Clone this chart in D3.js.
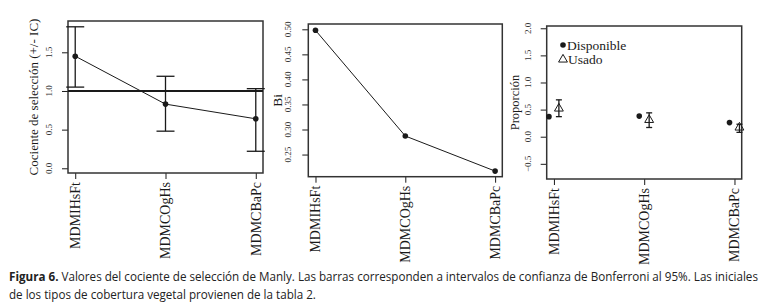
<!DOCTYPE html>
<html>
<head>
<meta charset="utf-8">
<script src="https://cdn.jsdelivr.net/npm/d3@7"></script>
<style>
  body { margin: 0; background: #fff; }
  svg { display: block; }
</style>
</head>
<body>
<div id="chart"></div>
<script>
// categories (cover types)
const categories = ["MDMIHsFt", "MDMCOgHs", "MDMCBaPc"];

// panel 1: Manly selection ratio with Bonferroni CI
const cocienteValues = [1.45, 0.83, 0.64];
const cocienteLower = [1.05, 0.48, 0.22];
const cocienteUpper = [1.83, 1.19, 1.03];
const cocienteTicks = [0, 0.5, 1, 1.5];

// panel 2: Bi
const biValues = [0.498, 0.287, 0.217];
const biTicks = [0.25, 0.30, 0.35, 0.40, 0.45, 0.50];

// panel 3: proportion available / used
const disponible = [0.37, 0.38, 0.26];
const usado = [0.52, 0.31, 0.17];
const usadoLower = [0.37, 0.17, 0.08];
const usadoUpper = [0.68, 0.44, 0.23];
const propTicks = [-0.5, 0, 0.5, 1, 1.5, 2];

const captionBold = "Figura 6.";
const captionLine1 = " Valores del cociente de selección de Manly. Las barras corresponden a intervalos de confianza de Bonferroni al 95%. Las iniciales";
const captionLine2 = "de los tipos de cobertura vegetal provienen de la tabla 2.";

const W = 768, H = 308;
const ink = "#1a1a1a";
const serif = "'Liberation Serif', 'Times New Roman', serif";

const svg = d3.select("#chart").append("svg")
    .attr("width", W)
    .attr("height", H);

/* draws one R-style panel: box, ticks, rotated labels */
function panel(box, yDomain, yTicks, yFmt, yTitle, titleX, titleSize, tickLabelX) {
    const x = d3.scaleLinear().domain([0.92, 3.08]).range([box.x0, box.x1]);
    const y = d3.scaleLinear().domain(yDomain).range([box.y1, box.y0]);
    const g = svg.append("g");

    // y axis (ticks only, outward)
    g.append("g")
        .attr("transform", `translate(${box.x0},0)`)
        .call(d3.axisLeft(y).tickValues(yTicks).tickSize(6).tickFormat(() => ""))
        .call(a => a.select(".domain").remove())
        .selectAll("line").attr("stroke", ink);
    g.selectAll(".ylab")
        .data(yTicks)
        .enter()
        .append("text")
        .attr("transform", d => `translate(${tickLabelX},${y(d)}) rotate(-90)`)
        .attr("text-anchor", "middle")
        .attr("font-family", serif)
        .attr("font-size", 9)
        .attr("fill", "#333")
        .text(yFmt);

    // x axis
    g.append("g")
        .attr("transform", `translate(0,${box.y1})`)
        .call(d3.axisBottom(x).tickValues([1, 2, 3]).tickSize(6).tickFormat(() => ""))
        .call(a => a.select(".domain").remove())
        .selectAll("line").attr("stroke", ink);
    g.selectAll(".xlab")
        .data(categories)
        .enter()
        .append("text")
        .attr("transform", (d, i) => `translate(${x(i + 1)},${box.y1 + 9}) rotate(-90)`)
        .attr("text-anchor", "end")
        .attr("dy", "0.35em")
        .attr("font-family", serif)
        .attr("font-size", 14)
        .attr("fill", ink)
        .text(d => d);

    // y title
    g.append("text")
        .attr("transform", `translate(${titleX},${(box.y0 + box.y1) / 2}) rotate(-90)`)
        .attr("text-anchor", "middle")
        .attr("dy", "0.35em")
        .attr("font-family", serif)
        .attr("font-size", titleSize)
        .attr("fill", ink)
        .text(yTitle);

    // box
    g.append("rect")
        .attr("x", box.x0)
        .attr("y", box.y0)
        .attr("width", box.x1 - box.x0)
        .attr("height", box.y1 - box.y0)
        .attr("fill", "none")
        .attr("stroke", "#333")
        .attr("stroke-width", 1.5);

    return { g, x, y };
}

/* Panel 1 */
{
    const { g, x, y } = panel({ x0: 68, x1: 263, y0: 21, y1: 173 }, [-0.061, 1.905],
        cocienteTicks, d3.format(".1f"), "Cociente de selección (+/- IC)", 33, 13, 52);

    g.append("line")
        .attr("x1", 68).attr("x2", 263)
        .attr("y1", y(1)).attr("y2", y(1))
        .attr("stroke", ink).attr("stroke-width", 2);

    const line = d3.line().x((d, i) => x(i + 1)).y(d => y(d));
    g.append("path")
        .datum(cocienteValues)
        .attr("d", line)
        .attr("fill", "none")
        .attr("stroke", ink)
        .attr("stroke-width", 1);

    categories.forEach((c, i) => {
        const cx = x(i + 1);
        g.append("line").attr("x1", cx).attr("x2", cx)
            .attr("y1", y(cocienteLower[i])).attr("y2", y(cocienteUpper[i]))
            .attr("stroke", ink).attr("stroke-width", 1.3);
        [cocienteLower[i], cocienteUpper[i]].forEach(v => {
            g.append("line").attr("x1", cx - 9).attr("x2", cx + 9)
                .attr("y1", y(v)).attr("y2", y(v))
                .attr("stroke", ink).attr("stroke-width", 1.3);
        });
    });

    g.selectAll(".pt")
        .data(cocienteValues)
        .enter()
        .append("circle")
        .attr("cx", (d, i) => x(i + 1))
        .attr("cy", d => y(d))
        .attr("r", 2.8)
        .attr("fill", ink);
}

/* Panel 2 */
{
    const { g, x, y } = panel({ x0: 308.3, x1: 502.3, y0: 24, y1: 176.7 }, [0.2058, 0.5106],
        biTicks, d3.format(".2f"), "Bi", 277, 13.5, 291);

    const line = d3.line().x((d, i) => x(i + 1)).y(d => y(d));
    g.append("path")
        .datum(biValues)
        .attr("d", line)
        .attr("fill", "none")
        .attr("stroke", ink)
        .attr("stroke-width", 1);

    g.selectAll(".pt")
        .data(biValues)
        .enter()
        .append("circle")
        .attr("cx", (d, i) => x(i + 1))
        .attr("cy", d => y(d))
        .attr("r", 2.8)
        .attr("fill", ink);
}

/* Panel 3 */
{
    const { g, x, y } = panel({ x0: 546.7, x1: 741.7, y0: 26, y1: 179 }, [-0.78, 2.042],
        propTicks, d3.format(".1f"), "Proporción", 515, 12.5, 531);

    const off = 0.055;
    g.selectAll(".disp")
        .data(disponible)
        .enter()
        .append("circle")
        .attr("cx", (d, i) => x(i + 1 - off))
        .attr("cy", d => y(d))
        .attr("r", 2.8)
        .attr("fill", ink);

    categories.forEach((c, i) => {
        const cx = x(i + 1 + off);
        g.append("line").attr("x1", cx).attr("x2", cx)
            .attr("y1", y(usadoLower[i])).attr("y2", y(usadoUpper[i]))
            .attr("stroke", ink).attr("stroke-width", 1.3);
        [usadoLower[i], usadoUpper[i]].forEach(v => {
            g.append("line").attr("x1", cx - 3).attr("x2", cx + 3)
                .attr("y1", y(v)).attr("y2", y(v))
                .attr("stroke", ink).attr("stroke-width", 1.3);
        });
    });

    const tri = d3.symbol().type(d3.symbolTriangle).size(34);
    g.selectAll(".uso")
        .data(usado)
        .enter()
        .append("path")
        .attr("d", tri)
        .attr("transform", (d, i) => `translate(${x(i + 1 + off)},${y(d)})`)
        .attr("fill", "none")
        .attr("stroke", ink)
        .attr("stroke-width", 1);

    // legend
    const lg = g.append("g").attr("font-family", serif).attr("font-size", 13.5).attr("fill", ink);
    lg.append("circle").attr("cx", 563).attr("cy", 45).attr("r", 2.8).attr("fill", ink);
    lg.append("text").attr("x", 567).attr("y", 45).attr("dy", "0.35em").text("Disponible");
    lg.append("path").attr("d", tri)
        .attr("transform", "translate(563,59.5)")
        .attr("fill", "none").attr("stroke", ink);
    lg.append("text").attr("x", 568).attr("y", 59.5).attr("dy", "0.35em").text("Usado");
}

/* caption */
{
    const cap = svg.append("g")
        .attr("font-family", "'Open Sans', 'Noto Sans', sans-serif")
        .attr("font-size", 13)
        .attr("fill", "#222");
    const t1 = cap.append("text").attr("x", 0).attr("y", 281);
    t1.append("tspan").attr("font-weight", "bold").text(captionBold);
    t1.append("tspan").text(captionLine1);
    cap.append("text").attr("x", 0).attr("y", 299).text(captionLine2);

    const natural = t1.node().getComputedTextLength();
    const k = (759 - 9) / natural;
    cap.attr("transform", `translate(9,0) scale(${k},1)`);
}
</script>
</body>
</html>
